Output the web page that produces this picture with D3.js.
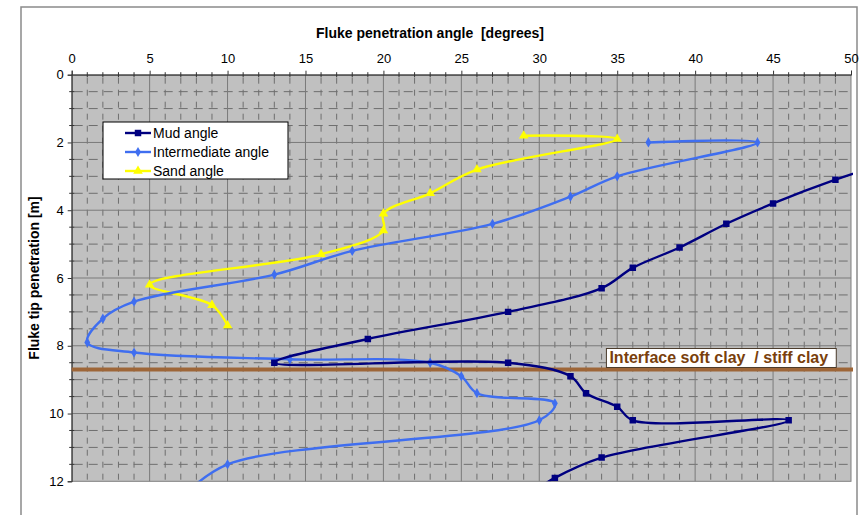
<!DOCTYPE html>
<html>
<head>
<meta charset="utf-8">
<script src="https://cdn.jsdelivr.net/npm/d3@7"></script>
<style>
  html, body { margin: 0; padding: 0; background: #ffffff; }
  svg { display: block; }
  text { white-space: pre; }
  .tick-label { font-family: "Liberation Sans Narrow", "Arial Narrow", "Liberation Sans", Arial, sans-serif; font-size: 13px; fill: #000; }
</style>
</head>
<body>
<svg id="chart" width="859" height="515"></svg>
<script>
// Fluke penetration angle versus fluke tip penetration, three soil types.
// Each point: [angle in degrees, tip penetration in metres].
const mudAngle = [
  [52, 2.65], [49, 3.1], [45, 3.8], [42, 4.4], [39, 5.1], [36, 5.7], [34, 6.3],
  [28, 7.0], [19, 7.8], [13, 8.5], [28, 8.5], [32, 8.9], [33, 9.4], [35, 9.8],
  [36, 10.2], [46, 10.2], [34, 11.3], [31, 11.9], [29, 12.5]
];
const intermediateAngle = [
  [37, 2.0], [44, 2.0], [35, 3.0], [32, 3.6], [27, 4.4], [18, 5.2], [13, 5.9],
  [4, 6.7], [2, 7.2], [1, 7.9], [4, 8.2], [14, 8.4], [23, 8.5], [25, 8.9],
  [26, 9.4], [31, 9.7], [30, 10.2], [10, 11.5], [7, 12.5]
];
const sandAngle = [
  [29, 1.8], [35, 1.9], [26, 2.8], [23, 3.5], [20, 4.1], [20, 4.6], [16, 5.3],
  [5, 6.2], [9, 6.8], [10, 7.4]
];

const seriesNames = ["Mud angle", "Intermediate angle", "Sand angle"];
const xTickValues = [0, 5, 10, 15, 20, 25, 30, 35, 40, 45, 50];
const yTickValues = [0, 2, 4, 6, 8, 10, 12];
const interfaceDepth = 8.7;
const interfaceText = "Interface soft clay  / stiff clay";
const xTitle = "Fluke penetration angle  [degrees]";
const yTitle = "Fluke tip penetration [m]";

const svg = d3.select("#chart");
const plot = { left: 71.7, top: 74.7, right: 851, bottom: 481.3 };

const x = d3.scaleLinear().domain([0, 50]).range([plot.left, plot.right]);
const y = d3.scaleLinear().domain([0, 12]).range([plot.top, plot.bottom]);

// outer chart frame
svg.append("rect")
  .attr("x", 21).attr("y", 7).attr("width", 836).attr("height", 530)
  .attr("fill", "#fff").attr("stroke", "#8a8a8a").attr("stroke-width", 1.5);

// plot background
svg.append("rect")
  .attr("x", plot.left).attr("y", plot.top)
  .attr("width", plot.right - plot.left).attr("height", plot.bottom - plot.top)
  .attr("fill", "#c0c0c0");

const grid = svg.append("g");
// minor dashed grid: every degree and every half metre
grid.selectAll("line.vminor")
  .data(d3.range(1, 50).filter(v => v % 5 !== 0))
  .join("line")
  .attr("x1", d => x(d)).attr("x2", d => x(d))
  .attr("y1", plot.top).attr("y2", plot.bottom)
  .attr("stroke", "#6e6e6e").attr("stroke-width", 1)
  .attr("stroke-dasharray", "6,6").attr("stroke-dashoffset", -3);
grid.selectAll("line.hminor")
  .data(d3.range(0.5, 12, 0.5).filter(v => v % 2 !== 0))
  .join("line")
  .attr("x1", plot.left).attr("x2", plot.right)
  .attr("y1", d => y(d)).attr("y2", d => y(d))
  .attr("stroke", "#6e6e6e").attr("stroke-width", 1)
  .attr("stroke-dasharray", "9,6").attr("stroke-dashoffset", -2);
// major solid grid
grid.selectAll("line.vmajor")
  .data(xTickValues.slice(1, -1))
  .join("line")
  .attr("x1", d => x(d)).attr("x2", d => x(d))
  .attr("y1", plot.top).attr("y2", plot.bottom)
  .attr("stroke", "#7a7a7a").attr("stroke-width", 1);
grid.selectAll("line.hmajor")
  .data(yTickValues.slice(1, -1))
  .join("line")
  .attr("x1", plot.left).attr("x2", plot.right)
  .attr("y1", d => y(d)).attr("y2", d => y(d))
  .attr("stroke", "#7a7a7a").attr("stroke-width", 1);

// plot border
svg.append("rect")
  .attr("x", plot.left).attr("y", plot.top)
  .attr("width", plot.right - plot.left).attr("height", plot.bottom - plot.top)
  .attr("fill", "none").attr("stroke", "#808080").attr("stroke-width", 1);

// top axis
const xAxis = svg.append("g").attr("transform", `translate(0,${plot.top})`)
  .call(d3.axisTop(x).tickValues(xTickValues).tickSize(4).tickPadding(8));
xAxis.select(".domain").attr("stroke", "#333");
xAxis.selectAll(".tick line").attr("stroke", "#333");
xAxis.selectAll(".tick text").attr("class", "tick-label").attr("font-size", null).attr("font-family", null);
// minor crossing ticks on top axis
svg.append("g").selectAll("line")
  .data(d3.range(1, 50).filter(v => v % 5 !== 0))
  .join("line")
  .attr("x1", d => x(d)).attr("x2", d => x(d))
  .attr("y1", plot.top - 2.5).attr("y2", plot.top + 2.5)
  .attr("stroke", "#333");

// left axis
const yAxis = svg.append("g").attr("transform", `translate(${plot.left},0)`)
  .call(d3.axisLeft(y).tickValues(yTickValues).tickSize(4).tickPadding(4));
yAxis.select(".domain").attr("stroke", "#333");
yAxis.selectAll(".tick line").attr("stroke", "#333");
yAxis.selectAll(".tick text").attr("class", "tick-label").attr("font-size", null).attr("font-family", null);
svg.append("g").selectAll("line")
  .data(d3.range(0.5, 12, 0.5).filter(v => v % 2 !== 0))
  .join("line")
  .attr("x1", plot.left - 2.5).attr("x2", plot.left + 2.5)
  .attr("y1", d => y(d)).attr("y2", d => y(d))
  .attr("stroke", "#333");

// axis titles
svg.append("text")
  .attr("x", 430).attr("y", 38)
  .attr("text-anchor", "middle")
  .attr("font-family", "'Liberation Sans Narrow', 'Arial Narrow', 'Liberation Sans', Arial, sans-serif")
  .attr("font-weight", "bold").attr("font-size", 14)
  .text(xTitle);
svg.append("text")
  .attr("transform", `translate(39,${(plot.top + plot.bottom) / 2}) rotate(-90)`)
  .attr("text-anchor", "middle")
  .attr("font-family", "'Liberation Sans Narrow', 'Arial Narrow', 'Liberation Sans', Arial, sans-serif")
  .attr("font-weight", "bold").attr("font-size", 14)
  .text(yTitle);

// interface between soft and stiff clay
svg.append("line")
  .attr("x1", plot.left).attr("x2", plot.right + 2)
  .attr("y1", y(interfaceDepth)).attr("y2", y(interfaceDepth))
  .attr("stroke", "#9e6638").attr("stroke-width", 4);

// series
svg.append("clipPath").attr("id", "plot-clip")
  .append("rect")
  .attr("x", plot.left).attr("y", plot.top)
  .attr("width", plot.right - plot.left + 2).attr("height", plot.bottom - plot.top);

const line = d3.line()
  .x(d => x(d[0])).y(d => y(d[1]))
  .curve(d3.curveCatmullRom.alpha(0.5));

const series = [
  { name: seriesNames[0], data: mudAngle, color: "#000080", symbol: d3.symbolSquare, size: 42 },
  { name: seriesNames[1], data: intermediateAngle, color: "#3f6ef0", symbol: d3.symbolDiamond, size: 30 },
  { name: seriesNames[2], data: sandAngle, color: "#ffff00", symbol: d3.symbolTriangle, size: 40 }
];

const seriesLayer = svg.append("g").attr("clip-path", "url(#plot-clip)");
// draw in reverse so the mud line sits on top
[...series].reverse().forEach(s => {
  const g = seriesLayer.append("g");
  g.append("path")
    .attr("d", line(s.data))
    .attr("fill", "none").attr("stroke", s.color).attr("stroke-width", 2.4);
  g.selectAll("path.marker")
    .data(s.data.filter(d => d[0] <= 50 && d[1] <= 12))
    .join("path")
    .attr("transform", d => `translate(${x(d[0])},${y(d[1])})`)
    .attr("d", d3.symbol().type(s.symbol).size(s.size))
    .attr("fill", s.color);
});

// interface label
const labelG = svg.append("g");
const labelBox = labelG.append("rect")
  .attr("fill", "#fff").attr("stroke", "#4a3a2a").attr("stroke-width", 1);
const labelText = labelG.append("text")
  .attr("x", x(34.5)).attr("y", y(interfaceDepth) - 6)
  .attr("font-family", "'Liberation Sans Narrow', 'Arial Narrow', 'Liberation Sans', Arial, sans-serif")
  .attr("font-weight", "bold").attr("font-size", 16)
  .attr("fill", "#7a3f0c")
  .text(interfaceText);
const bb = labelText.node().getBBox();
labelBox.attr("x", bb.x - 3).attr("y", y(interfaceDepth) - 21)
  .attr("width", bb.width + 11).attr("height", 19);

// legend
const legend = svg.append("g").attr("transform", "translate(103,122)");
legend.append("rect")
  .attr("width", 185).attr("height", 57)
  .attr("fill", "#fff").attr("stroke", "#000").attr("stroke-width", 1);
series.forEach((s, i) => {
  const row = legend.append("g").attr("transform", `translate(0,${11 + i * 19})`);
  row.append("line").attr("x1", 22).attr("x2", 48).attr("y1", 0).attr("y2", 0)
    .attr("stroke", s.color).attr("stroke-width", 2.4);
  row.append("path").attr("transform", "translate(35,0)")
    .attr("d", d3.symbol().type(s.symbol).size(s.size)).attr("fill", s.color);
  row.append("text").attr("x", 50).attr("y", 5)
    .attr("font-family", "'Liberation Sans', Arial, sans-serif")
    .attr("font-size", 14).attr("fill", "#000")
    .text(s.name);
});
</script>
</body>
</html>
